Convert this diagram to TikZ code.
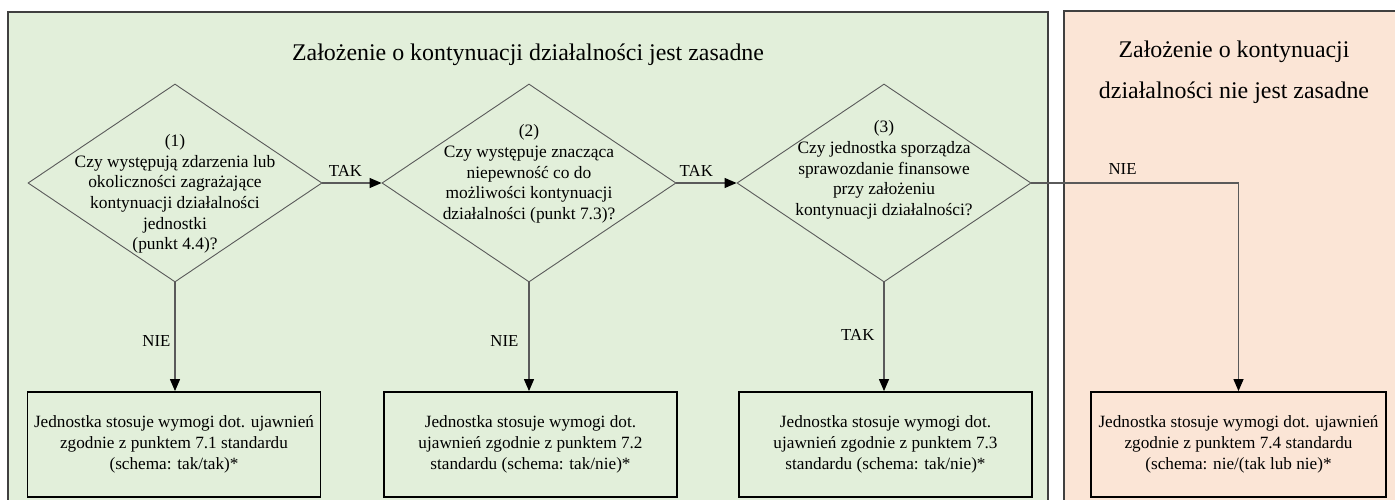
\documentclass[tikz,border=0pt]{standalone}
\usepackage{fontspec}
\setmainfont{Liberation Serif}
\usetikzlibrary{shapes.geometric,arrows.meta,calc}
\definecolor{panelgreen}{HTML}{E2EFDA}
\definecolor{panelpink}{HTML}{FBE5D6}
\definecolor{linegray}{HTML}{5A5A5A}
\definecolor{panelline}{HTML}{404040}
\begin{document}
\begin{tikzpicture}[x=1pt,y=-1pt,
  panel/.style={draw=panelline, line width=1.1pt},
  decision/.style={diamond, draw=linegray, line width=0.9pt, minimum width=294pt, minimum height=198pt, inner sep=0pt},
  qtext/.style={align=center, font=\fontsize{17.4}{20.7}\selectfont, inner sep=0pt},
  result/.style={rectangle, draw=black, line width=1.8pt, align=center, minimum height=105pt, inner sep=0pt, font=\fontsize{17.2}{21.3}\selectfont},
  flow/.style={draw=linegray, line width=1.2pt, -{Triangle[length=12pt,width=10pt,color=black]}},
  lbl/.style={font=\fontsize{16.8}{18}\selectfont, inner sep=0pt},
  paneltitle/.style={font=\fontsize{23.9}{41}\selectfont, align=center, inner sep=0pt}
]
\useasboundingbox (0,0) rectangle (1395,500);
\fill[white] (0,0) rectangle (1395,500);
\draw[panel, fill=panelgreen] (8,510) -- (8,12) -- (1048,12) -- (1048,510);
\draw[panel, fill=panelpink] (1064,510) -- (1064,11) -- (1400,11) -- (1400,510);

\node[paneltitle] (t1) at (528,55) {Założenie o kontynuacji działalności jest zasadne};
\node[paneltitle] (t2) at (1234,72) {Założenie o kontynuacji\\działalności nie jest zasadne};

\node[decision] (d1) at (175,183) {};
\node[decision] (d2) at (529,183) {};
\node[decision] (d3) at (884,183) {};

\node[qtext] (q1) at (175,194) {(1)\\Czy występują zdarzenia lub\\okoliczności zagrażające\\kontynuacji działalności\\jednostki\\(punkt 4.4)?};
\node[qtext] (q2) at (529,174) {(2)\\Czy występuje znacząca\\niepewność co do\\możliwości kontynuacji\\działalności (punkt 7.3)?};
\node[qtext] (q3) at (884,170) {(3)\\Czy jednostka sporządza\\sprawozdanie finansowe\\przy założeniu\\kontynuacji działalności?};

\node[result, minimum width=293pt, fill=panelgreen] (b1) at (174,444.5) {Jednostka stosuje wymogi dot. ujawnień\\zgodnie z punktem 7.1 standardu\\(schema: tak/tak)*};
\node[result, minimum width=293pt, fill=panelgreen] (b2) at (530.5,444.5) {Jednostka stosuje wymogi dot.\\ujawnień zgodnie z punktem 7.2\\standardu (schema: tak/nie)*};
\node[result, minimum width=293pt, fill=panelgreen] (b3) at (885.5,444.5) {Jednostka stosuje wymogi dot.\\ujawnień zgodnie z punktem 7.3\\standardu (schema: tak/nie)*};
\node[result, minimum width=295pt, fill=panelpink] (b4) at (1238.5,444.5) {Jednostka stosuje wymogi dot. ujawnień\\zgodnie z punktem 7.4 standardu\\(schema: nie/(tak lub nie)*};

\draw[flow] (d1.east) -- node[lbl, above=6pt, pos=0.39] {TAK} (d2.west);
\draw[flow] (d2.east) -- node[lbl, above=6pt, pos=0.33] {TAK} (d3.west);
\draw[flow] (d1.south) -- node[lbl, left=4pt, pos=0.54] {NIE} (d1.south |- b1.north);
\draw[flow] (d2.south) -- node[lbl, left=10pt, pos=0.54] {NIE} (d2.south |- b2.north);
\draw[flow] (d3.south) -- node[lbl, left=9pt, pos=0.48] {TAK} (d3.south |- b3.north);
\draw[flow] (d3.east) -| node[lbl, above=8pt, pos=0.22] {NIE} (b4.north);
\end{tikzpicture}
\end{document}
